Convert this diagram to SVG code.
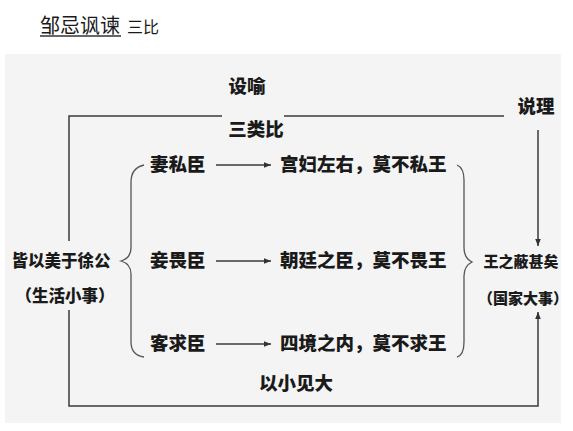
<svg xmlns="http://www.w3.org/2000/svg" width="573" height="431" viewBox="0 0 573 431">
<defs>
<marker id="ah" viewBox="0 0 10 10" refX="10" refY="5" markerWidth="7" markerHeight="7" markerUnits="userSpaceOnUse" orient="auto">
<path d="M0,1 L10,5 L0,9 Z" fill="#333"/>
</marker>
</defs>
<style>
text{font-family:"Noto Sans CJK SC","Noto Sans CJK TC",sans-serif;fill:#1a1a1a;}
.b{font-weight:900;font-size:18.5px;}
.m{font-weight:900;font-size:16.5px;}
.s{font-weight:900;font-size:15px;}
.ln{fill:none;stroke:#3a3a3a;stroke-width:1.5;}
.br{fill:none;stroke:#555;stroke-width:1.3;}
</style>
<rect width="573" height="431" fill="#ffffff"/>
<rect x="5" y="54" width="556" height="369" fill="#f4f4f4"/>
<g id="title">
<text x="40" y="33" font-size="20">邹忌讽谏</text>
<line x1="40" y1="36" x2="121" y2="36" stroke="#333" stroke-width="1.5"/>
<text x="127" y="33" font-size="16">三比</text>
</g>
<g id="connectors">
<path class="ln" d="M69,241 V116 H222"/>
<path class="ln" d="M284,116 H504"/>
<path class="ln" d="M538,130 V246" marker-end="url(#ah)"/>
<path class="ln" d="M69,310 V406 H538 V312" marker-end="url(#ah)"/>
<path class="ln" d="M216,165 H271" marker-end="url(#ah)"/>
<path class="ln" d="M216,261 H271" marker-end="url(#ah)"/>
<path class="ln" d="M216,344 H271" marker-end="url(#ah)"/>
<path class="br" d="M144,165 Q131,168 131,182 V248 Q131,258 121,261 Q131,264 131,274 V342 Q131,355 144,357"/>
<path class="br" d="M457,165 Q464,168 464,180 V248 Q464,258 472,262 Q464,266 464,276 V342 Q464,355 457,357"/>
</g>
<g id="label-sheyu"><text class="b" x="247" y="93" text-anchor="middle">设喻</text></g>
<g id="label-sanleibi"><text class="b" x="256" y="136" text-anchor="middle">三类比</text></g>
<g id="label-shuoli"><text class="b" x="536" y="113" text-anchor="middle">说理</text></g>
<g id="label-yixiao"><text class="b" x="296" y="390" text-anchor="middle">以小见大</text></g>
<g id="left-node">
<text class="m" x="61" y="267" text-anchor="middle">皆以美于徐公</text>
<text class="m" x="65" y="302" text-anchor="middle">（生活小事）</text>
</g>
<g id="right-node">
<text class="s" x="521" y="267" text-anchor="middle">王之蔽甚矣</text>
<text class="s" x="523" y="304" text-anchor="middle">（国家大事）</text>
</g>
<g id="row1">
<text class="b" x="150" y="171">妻私臣</text>
<text class="b" x="280" y="171">宫妇左右，莫不私王</text>
</g>
<g id="row2">
<text class="b" x="150" y="267">妾畏臣</text>
<text class="b" x="280" y="267">朝廷之臣，莫不畏王</text>
</g>
<g id="row3">
<text class="b" x="150" y="350">客求臣</text>
<text class="b" x="280" y="350">四境之内，莫不求王</text>
</g>
</svg>
